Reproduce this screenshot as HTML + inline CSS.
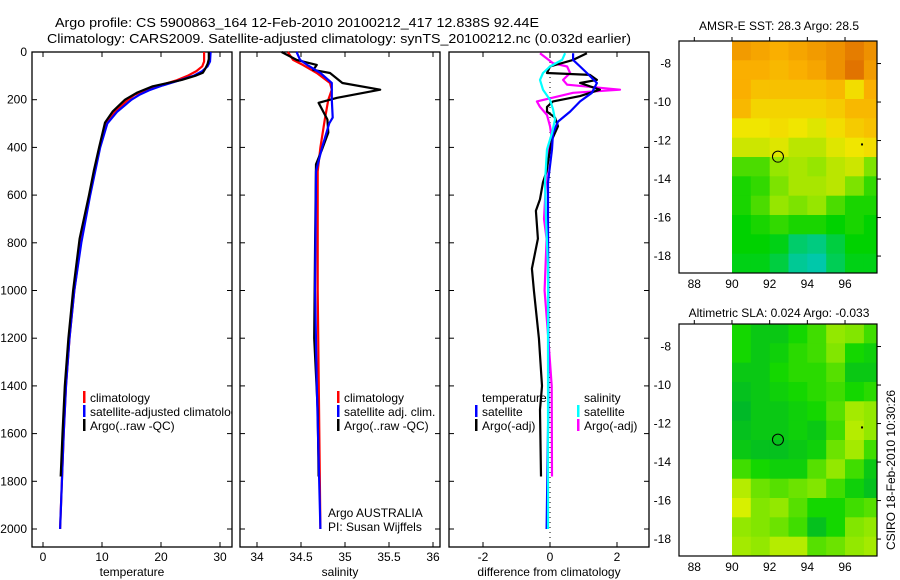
<!DOCTYPE html>
<html><head><meta charset="utf-8"><style>
html,body{margin:0;padding:0;background:#fff;width:900px;height:580px;overflow:hidden}
svg{display:block;font-family:"Liberation Sans",Arial,sans-serif}
</style></head><body>
<svg id="fig" width="900" height="580" viewBox="0 0 900 580">
<text x="55" y="27" font-size="13" textLength="484" lengthAdjust="spacingAndGlyphs">Argo profile: CS 5900863_164 12-Feb-2010 20100212_417 12.838S 92.44E</text>
<text x="47" y="43" font-size="13" textLength="584" lengthAdjust="spacingAndGlyphs">Climatology: CARS2009. Satellite-adjusted climatology: synTS_20100212.nc (0.032d earlier)</text>
<text x="779" y="30" font-size="12" text-anchor="middle">AMSR-E SST: 28.3 Argo: 28.5</text>
<text x="779" y="317" font-size="12" text-anchor="middle">Altimetric SLA: 0.024 Argo: -0.033</text>
<text transform="translate(895,470) rotate(-90)" font-size="12" text-anchor="middle">CSIRO 18-Feb-2010 10:30:26</text>
<g id="plots"></g>
</svg>
<script>
// depth levels and profile values
const tDepthArgo=[0,30,50,70,87,100,117,144,170,200,250,296,400,500,600,783,1000,1200,1400,1600,1780];
const tArgo=[28.1,28.1,27.9,27.5,27.1,25.8,23.5,18.6,16,13.9,11.8,10.5,9.5,8.6,7.8,6.2,5.1,4.3,3.7,3.3,3.0];
const tDepthClim=[0,40,60,80,100,120,140,160,180,200,250,300,400,600,800,1000,1200,1400,1600,1800,2000];
const tClim=[27.3,27.3,27.0,26.0,24.5,22.5,19.8,17.3,15.5,14.4,12.2,10.7,9.6,7.9,6.4,5.3,4.5,3.9,3.5,3.2,2.9];
const tSat=[28.4,28.3,27.9,27.0,25.5,23.0,20.3,18.0,16.3,15.0,12.6,10.9,9.7,8.0,6.5,5.3,4.5,3.9,3.5,3.2,2.9];
const sDepthArgo=[0,33,54,75,88,130,158,192,213,283,338,408,471,800,1200,1500,1780];
const sArgo=[34.28,34.45,34.68,34.64,34.83,34.97,35.40,34.91,34.70,34.80,34.81,34.74,34.67,34.66,34.65,34.69,34.70];
const sDepthClim=[0,33,54,88,130,158,200,283,400,500,1000,2000];
const sClim=[34.35,34.41,34.52,34.68,34.83,34.85,34.81,34.77,34.72,34.69,34.69,34.72];
const sDepthSat=[0,33,54,88,130,200,275,300,400,500,1000,1400,2000];
const sSat=[34.45,34.49,34.57,34.72,34.85,34.85,34.86,34.82,34.74,34.67,34.66,34.68,34.72];
const dTArgoDepth=[5,33,61,88,96,117,130,158,185,207,230,250,275,311,367,408,500,546,617,666,783,908,1000,1200,1400,1500,1780];
const dTArgo=[1.10,0.69,0,-0.09,1.19,1.40,0.90,1.49,0.90,0.09,-0.09,-0.09,0.15,0.24,0.06,0,-0.1,-0.21,-0.3,-0.42,-0.36,-0.54,-0.48,-0.33,-0.24,-0.3,-0.27];
const dTSatDepth=[5,33,61,88,130,171,207,250,292,340,408,546,700,1000,1500,2000];
const dTSat=[0.69,0.69,0.9,1.1,1.4,1.25,0.9,0.6,0.24,0.09,0.06,-0.06,-0.06,-0.05,-0.05,-0.1];
const dSSatDepth=[5,33,61,88,117,158,200,240,283,340,408,546,700,900,2000];
const dSSat=[0.45,0.36,0,-0.21,-0.3,-0.21,0,0.09,0.15,0.06,-0.09,-0.15,-0.12,-0.06,-0.06];
const dSArgoDepth=[5,47,61,88,117,137,158,171,207,230,264,311,367,408,546,700,783,1000,1200,1400,1780];
const dSArgo=[-0.3,0.09,0.51,0.6,0.39,0.51,2.09,0.69,-0.39,-0.3,-0.09,0,0.06,-0.03,-0.12,-0.18,-0.1,-0.16,-0.05,0.05,0.06];
const depthTicks=[0,200,400,600,800,1000,1200,1400,1600,1800,2000];
const tTicks=[0,10,20,30];
const sTicks=[34,34.5,35,35.5,36];
const sTickLabels=["34","34.5","35","35.5","36"];
const dTicks=[-2,0,2];
// map grids (rows top->bottom, columns lon 90..97)
const sstGrid=[
[29.2,29.1,29.0,29.1,29.2,29.3,29.5,29.3],
[29.0,29.0,28.9,29.0,29.1,29.3,29.6,29.2],
[29.0,28.8,28.8,28.8,28.8,28.9,28.5,29.0],
[28.9,28.6,28.6,28.6,28.6,28.7,28.9,28.9],
[28.4,28.4,28.5,28.4,28.3,28.5,28.7,28.8],
[28.2,28.2,28.3,28.1,28.1,28.3,28.4,28.5],
[27.6,27.6,27.9,28.0,27.9,28.1,28.2,27.8],
[27.4,27.5,27.8,28.0,28.0,28.1,27.8,27.5],
[27.4,27.6,27.9,27.8,27.9,27.6,27.4,27.4],
[27.3,27.4,27.5,27.4,27.4,27.3,27.4,27.3],
[27.3,27.3,27.2,26.8,26.7,27.0,27.3,27.3],
[27.2,27.2,27.0,26.6,26.5,26.9,27.2,27.2]];
const slaGrid=[
[0.0,-0.02,-0.02,0.0,0.02,0.06,0.05,0.02],
[0.0,-0.02,-0.01,0.01,0.02,0.05,0.0,-0.01],
[-0.02,-0.02,0.0,0.01,0.01,0.03,-0.02,-0.02],
[-0.03,-0.02,-0.01,0.0,0.01,0.02,0.0,0.01],
[-0.04,-0.02,-0.02,-0.01,0.0,0.03,0.07,0.06],
[-0.03,-0.02,-0.02,-0.01,-0.02,0.02,0.08,0.06],
[-0.02,-0.03,-0.03,-0.02,-0.01,0.04,0.07,0.02],
[0.02,0.0,-0.01,-0.01,0.03,0.06,0.02,-0.02],
[0.08,0.04,0.03,0.04,0.05,0.02,-0.01,-0.03],
[0.10,0.05,0.06,0.03,0.0,0.0,0.02,0.03],
[0.06,0.05,0.04,0.02,-0.03,0.0,0.05,0.06],
[0.07,0.06,0.08,0.08,0.03,0.04,0.06,0.07]];
const lonTicks=[88,90,92,94,96];
const latTicks=[-8,-10,-12,-14,-16,-18];
const argoLon=92.44, argoLat=-12.838;

const NS='http://www.w3.org/2000/svg';
const root=document.getElementById('plots');
function mk(tag,attrs,parent){const e=document.createElementNS(NS,tag);for(const k in attrs)e.setAttribute(k,attrs[k]);(parent||root).appendChild(e);return e;}
const yTop=52, yBot=547;
function yD(d){return 52+d*0.2385;}
const panels=[
 {x0:32,x1:232,fx:v=>43+v*5.9,ticks:tTicks,labels:tTicks.map(String),label:'temperature',name:'temperature-panel'},
 {x0:240,x1:440,fx:v=>257+(v-34)*88,ticks:sTicks,labels:sTickLabels,label:'salinity',name:'salinity-panel'},
 {x0:449,x1:649,fx:v=>550+v*33.5,ticks:dTicks,labels:dTicks.map(String),label:'difference from climatology',name:'difference-panel'}];
panels.forEach((p,pi)=>{
  const g=mk('g',{});
  
  
  const fr=mk('rect',{x:p.x0,y:yTop,width:p.x1-p.x0,height:yBot-yTop,fill:'none',stroke:'#000','stroke-width':1.3},g);
  
  
  depthTicks.forEach(d=>{
    mk('line',{x1:p.x0,x2:p.x0+5,y1:yD(d),y2:yD(d),stroke:'#000'},g);
    mk('line',{x1:p.x1,x2:p.x1-5,y1:yD(d),y2:yD(d),stroke:'#000'},g);
    if(pi===0){const t=mk('text',{x:27,y:yD(d)+4,'font-size':12,'text-anchor':'end'},g);t.textContent=d;
      
      }
  });
  p.ticks.forEach((v,i)=>{const x=p.fx(v);
    mk('line',{x1:x,x2:x,y1:yTop,y2:yTop+5,stroke:'#000'},g);
    mk('line',{x1:x,x2:x,y1:yBot,y2:yBot-5,stroke:'#000'},g);
    const t=mk('text',{x:x,y:561,'font-size':12,'text-anchor':'middle'},g);t.textContent=p.labels[i];
    
    });
  const al=mk('text',{x:(p.x0+p.x1)/2,y:576,'font-size':12,'text-anchor':'middle'},g);al.textContent=p.label;
  
  
  p.g=g;
});
function line(p,depths,vals,color,name){
  const pts=depths.map((d,i)=>p.fx(vals[i]).toFixed(1)+','+yD(d).toFixed(1)).join(' ');
  const l=mk('polyline',{points:pts,fill:'none',stroke:color,'stroke-width':2.2,'stroke-linejoin':'round'},p.g);
  
  
}
// zero line
const zl=mk('line',{x1:550,x2:550,y1:yTop,y2:yBot,stroke:'#000','stroke-dasharray':'1 4'},panels[2].g);


line(panels[0],tDepthClim,tClim,'#ff0000','temp-climatology-line');
line(panels[0],tDepthClim,tSat,'#0000ff','temp-satellite-line');
line(panels[0],tDepthArgo,tArgo,'#000','temp-argo-line');
line(panels[1],sDepthClim,sClim,'#ff0000','sal-climatology-line');
line(panels[1],sDepthArgo,sArgo,'#000','sal-argo-line');
line(panels[1],sDepthSat,sSat,'#0000ff','sal-satellite-line');
line(panels[2],dSArgoDepth,dSArgo,'#ff00ff','diff-sal-argo-line');
line(panels[2],dTArgoDepth,dTArgo,'#000','diff-temp-argo-line');
line(panels[2],dTSatDepth,dTSat,'#0000ff','diff-temp-satellite-line');
line(panels[2],dSSatDepth,dSSat,'#00ffff','diff-sal-satellite-line');
// legends
function leg(g,x,y,color,text){
  if(color)mk('rect',{x:x,y:y-7,width:2.5,height:12,fill:color},g);
  const t=mk('text',{x:x+7,y:y+4,'font-size':12},g);t.textContent=text;
  
  
}
const cp=mk('clipPath',{id:'c1'});mk('rect',{x:32,y:52,width:200,height:495},cp);
const lg1=mk('g',{'clip-path':'url(#c1)'},panels[0].g);
leg(lg1,83,398,'#f00','climatology');leg(lg1,83,412,'#00f','satellite-adjusted climatology');leg(lg1,83,426,'#000','Argo(..raw -QC)');
leg(panels[1].g,337,398,'#f00','climatology');leg(panels[1].g,337,412,'#00f','satellite adj. clim.');leg(panels[1].g,337,426,'#000','Argo(..raw -QC)');
leg(panels[1].g,321,513,null,'Argo AUSTRALIA');leg(panels[1].g,321,527,null,'PI: Susan Wijffels');
leg(panels[2].g,475,398,null,'temperature');leg(panels[2].g,475,412,'#00f','satellite');leg(panels[2].g,475,426,'#000','Argo(-adj)');
leg(panels[2].g,577,398,null,'salinity');leg(panels[2].g,577,412,'#0ff','satellite');leg(panels[2].g,577,426,'#f0f','Argo(-adj)');
// maps
function lerpC(stops,v){
  if(v<=stops[0][0])return stops[0][1];
  for(let i=1;i<stops.length;i++){if(v<=stops[i][0]){const a=stops[i-1],b=stops[i],t=(v-a[0])/(b[0]-a[0]);
    return a[1].map((c,k)=>Math.round(c+(b[1][k]-c)*t));}}
  return stops[stops.length-1][1];
}
const sstStops=[[26.5,[0,200,170]],[27.3,[0,210,0]],[27.9,[150,230,0]],[28.4,[240,230,0]],[29.0,[250,175,0]],[29.6,[225,115,0]]];
const slaStops=[[-0.04,[0,185,40]],[0.0,[20,215,0]],[0.05,[130,230,0]],[0.1,[215,240,0]]];
function drawMap(top,grid,stops,name,labelX){
  const x0=679,x1=877,h=232,y0=top,y1=top+h;
  const lonX=l=>694.3+(l-88)*18.84;
  const latTop=-6.83,latBot=-18.88;
  const latY=la=>y0+(latTop-la)/(latTop-latBot)*h;
  const g=mk('g',{});
  
  
  const cid='mc'+top;const c=mk('clipPath',{id:cid},g);mk('rect',{x:x0,y:y0,width:x1-x0,height:h},c);
  const cg=mk('g',{'clip-path':'url(#'+cid+')'},g);
  const rows=grid.length, step=(latTop-latBot)/rows;
  grid.forEach((row,r)=>row.forEach((v,ci)=>{
    const xa=lonX(90+ci), ya=latY(latTop-r*step);
    const col=lerpC(stops,v);
    const cell=mk('rect',{x:xa.toFixed(1),y:ya.toFixed(1),width:(18.84+0.5).toFixed(2),height:(h/rows+0.5).toFixed(2),fill:'rgb('+col.join(',')+')'},cg);
    
    
  }));
  const mf=mk('rect',{x:x0,y:y0,width:x1-x0,height:h,fill:'none',stroke:'#000','stroke-width':1.2},g);
  
  
  lonTicks.forEach(l=>{const x=lonX(l);mk('line',{x1:x,x2:x,y1:y0,y2:y0-4,stroke:'#000'},g);
    const t=mk('text',{x:x,y:y1+15,'font-size':12,'text-anchor':'middle'},g);t.textContent=l;
    
    });
  latTicks.forEach(la=>{const y=latY(la);mk('line',{x1:x1,x2:x1+4,y1:y,y2:y,stroke:'#000'},g);
    const t=mk('text',{x:671,y:y+4,'font-size':12,'text-anchor':'end'},g);t.textContent=la;
    
    });
  const m=mk('circle',{cx:lonX(argoLon),cy:latY(argoLat),r:5.5,fill:'none',stroke:'#000','stroke-width':1},g);
  
  
  mk('rect',{x:lonX(96.85),y:latY(-12.15),width:2,height:2,fill:'#000'},g);
}
drawMap(41,sstGrid,sstStops,'sst-map');
drawMap(324,slaGrid,slaStops,'sla-map');
</script>
</body></html>
